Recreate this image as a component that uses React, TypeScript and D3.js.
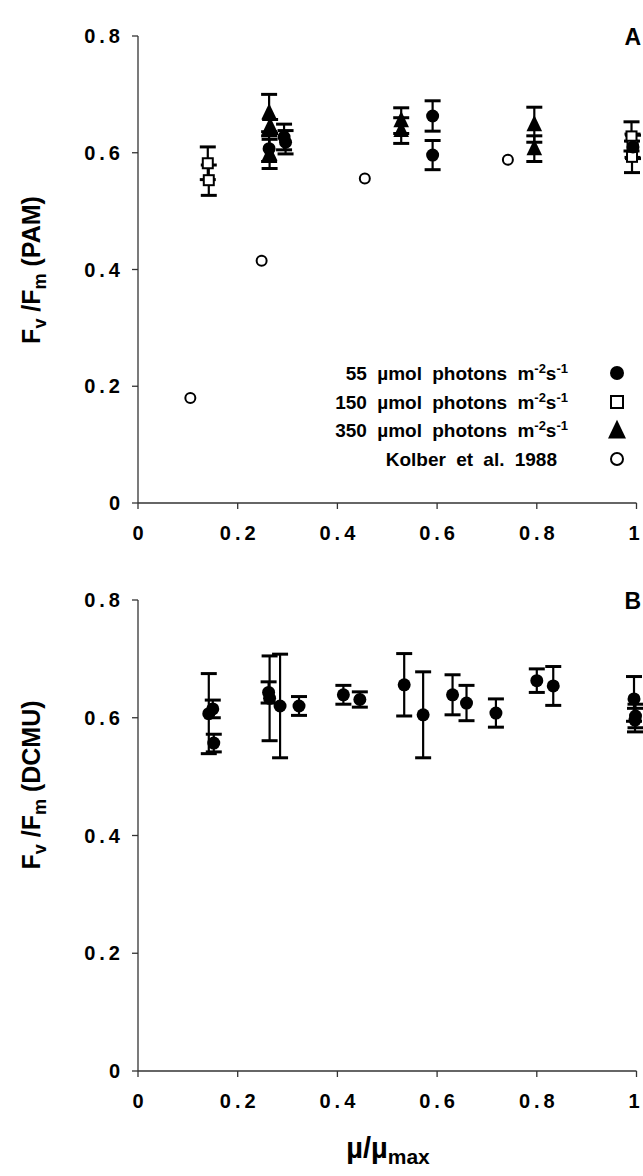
import React from 'react';
import * as d3 from 'd3';

// ---------- data ----------
const xTicks = [0, 0.2, 0.4, 0.6, 0.8, 1];
const xTickLabels = ['0', '0.2', '0.4', '0.6', '0.8', '1'];
const yTicks = [0, 0.2, 0.4, 0.6, 0.8];
const yTickLabels = ['0', '0.2', '0.4', '0.6', '0.8'];

// Panel A (PAM)
const low55X = [0.263, 0.293, 0.296, 0.591, 0.591, 0.993];
const low55Y = [0.607, 0.627, 0.618, 0.663, 0.596, 0.61];
const low55Err = [0.022, 0.022, 0.02, 0.026, 0.025, 0.02];

const mid150X = [0.14, 0.142, 0.99, 0.992, 0.991];
const mid150Y = [0.582, 0.553, 0.628, 0.612, 0.593];
const mid150Err = [0.028, 0.026, 0.025, 0.02, 0.027];

const high350X = [0.263, 0.265, 0.264, 0.528, 0.528, 0.795, 0.795];
const high350Y = [0.668, 0.645, 0.598, 0.655, 0.638, 0.648, 0.607];
const high350Err = [0.032, 0.012, 0.025, 0.022, 0.022, 0.03, 0.022];

const kolberX = [0.105, 0.248, 0.455, 0.742];
const kolberY = [0.18, 0.415, 0.556, 0.588];

// Panel B (DCMU)
const dcmuX = [0.142, 0.15, 0.152, 0.262, 0.264, 0.285, 0.323, 0.412, 0.445, 0.534, 0.572, 0.631, 0.659, 0.718, 0.8, 0.833, 0.995, 0.998, 0.997];
const dcmuY = [0.607, 0.615, 0.557, 0.643, 0.633, 0.62, 0.62, 0.639, 0.631, 0.656, 0.605, 0.639, 0.625, 0.608, 0.663, 0.654, 0.632, 0.603, 0.596];
const dcmuErr = [0.068, 0.015, 0.015, 0.018, 0.072, 0.088, 0.016, 0.016, 0.013, 0.053, 0.073, 0.034, 0.03, 0.024, 0.02, 0.033, 0.038, 0.02, 0.02];

const legendLabels = ['55 µmol photons m', '150 µmol photons m', '350 µmol photons m', 'Kolber et al. 1988'];

// ---------- layout ----------
const W = 643;
const H = 1176;
const FONT = '"Liberation Sans", Arial, Helvetica, sans-serif';

const x = d3.scaleLinear().domain([0, 1]).range([138, 636.5]);
const yA = d3.scaleLinear().domain([0, 0.8]).range([503, 36]);
const yB = d3.scaleLinear().domain([0, 0.8]).range([1071, 600]);

const CAP = 8;

function ErrBars({ xs, ys, es, y }: { xs: number[]; ys: number[]; es: number[]; y: d3.ScaleLinear<number, number> }) {
  return (
    <g stroke="#000" strokeWidth={2.2} fill="none">
      {xs.map((xv, i) => {
        const cx = x(xv);
        const t = y(ys[i] + es[i]);
        const b = y(ys[i] - es[i]);
        return (
          <g key={i}>
            <line x1={cx} x2={cx} y1={t} y2={b} />
            <line x1={cx - CAP} x2={cx + CAP} y1={t} y2={t} strokeWidth={3} />
            <line x1={cx - CAP} x2={cx + CAP} y1={b} y2={b} strokeWidth={3} />
          </g>
        );
      })}
    </g>
  );
}

const triPath = (cx: number, cy: number, s: number) =>
  `M${cx},${cy - s * 0.75}L${cx + s * 0.6},${cy + s * 0.5}L${cx - s * 0.6},${cy + s * 0.5}Z`;

function Axes({ y, top, bottom, letter }: { y: d3.ScaleLinear<number, number>; top: number; bottom: number; letter: string }) {
  const x0 = x(0);
  return (
    <g>
      <line x1={x0} x2={x0} y1={top} y2={bottom} stroke="#333" strokeWidth={1.3} />
      <line x1={x0} x2={x(1)} y1={bottom} y2={bottom} stroke="#333" strokeWidth={1.3} />
      {yTicks.map((t, i) => (
        <g key={'y' + i}>
          <line x1={x0 - 6} x2={x0} y1={y(t)} y2={y(t)} stroke="#333" strokeWidth={1.3} />
          <text x={124} y={y(t)} dy="0.36em" textAnchor="end" fontFamily={FONT} fontWeight="bold" fontSize={20} letterSpacing={4}>
            {yTickLabels[i]}
          </text>
        </g>
      ))}
      {xTicks.map((t, i) => {
        const lab = xTickLabels[i];
        const single = lab.length === 1;
        const lx = single ? Math.min(x(t), 634) : x(t) + 2;
        return (
          <g key={'x' + i}>
            <line x1={x(t)} x2={x(t)} y1={bottom} y2={bottom + 6} stroke="#333" strokeWidth={1.3} />
            <text x={lx} y={bottom + 30} dy="0.36em" textAnchor="middle" fontFamily={FONT} fontWeight="bold" fontSize={20} letterSpacing={single ? 0 : 4}>
              {lab}
            </text>
          </g>
        );
      })}
      <text x={641} y={top + 1} dy="0.36em" textAnchor="end" fontFamily={FONT} fontWeight="bold" fontSize={23}>
        {letter}
      </text>
    </g>
  );
}

function YTitle({ cy, tail }: { cy: number; tail: string }) {
  return (
    <text transform={`translate(40,${cy}) rotate(-90)`} textAnchor="middle" fontFamily={FONT} fontWeight="bold" fontSize={25}>
      F<tspan fontSize={18} dy={6}>v</tspan>
      <tspan dy={-6}> /F</tspan>
      <tspan fontSize={18} dy={6}>m</tspan>
      <tspan dy={-6}>{' ' + tail}</tspan>
    </text>
  );
}

export default function App() {
  const legendY = [373, 402, 430, 459];
  const legX = [568, 568, 568, 557];
  const symX = 617;
  return (
    <svg width={W} height={H} style={{ position: 'absolute', left: 0, top: 0, background: '#fff' }}>
      {/* Panel A */}
      <Axes y={yA} top={36} bottom={yA(0)} letter="A" />
      <YTitle cy={270} tail="(PAM)" />
      <ErrBars xs={low55X} ys={low55Y} es={low55Err} y={yA} />
      <ErrBars xs={mid150X} ys={mid150Y} es={mid150Err} y={yA} />
      <ErrBars xs={high350X} ys={high350Y} es={high350Err} y={yA} />
      {mid150X.map((xv, i) => (
        <rect key={'s' + i} x={x(xv) - 5} y={yA(mid150Y[i]) - 5} width={10} height={10} fill="#fff" stroke="#000" strokeWidth={2} />
      ))}
      {high350X.map((xv, i) => (
        <path key={'t' + i} d={triPath(x(xv), yA(high350Y[i]), 13)} fill="#000" />
      ))}
      {low55X.map((xv, i) => (
        <circle key={'c' + i} cx={x(xv)} cy={yA(low55Y[i])} r={6.5} fill="#000" />
      ))}
      {kolberX.map((xv, i) => (
        <circle key={'k' + i} cx={x(xv)} cy={yA(kolberY[i])} r={5} fill="#fff" stroke="#000" strokeWidth={2} />
      ))}

      {/* Legend */}
      {legendLabels.map((lab, i) => (
        <text key={'l' + i} x={legX[i]} y={legendY[i]} dy="0.36em" textAnchor="end" fontFamily={FONT} fontWeight="bold" fontSize={19} wordSpacing={5}>
          {lab}
          {i < 3 ? (
            <>
              <tspan fontSize={13} dy={-7}>-2</tspan>
              <tspan dy={7}>s</tspan>
              <tspan fontSize={13} dy={-7}>-1</tspan>
            </>
          ) : null}
        </text>
      ))}
      <circle cx={symX} cy={legendY[0]} r={7} fill="#000" />
      <rect x={symX - 6} y={legendY[1] - 6} width={12} height={12} fill="#fff" stroke="#000" strokeWidth={2} />
      <path d={triPath(symX, legendY[2] + 1, 15)} fill="#000" />
      <circle cx={symX} cy={legendY[3]} r={6} fill="#fff" stroke="#000" strokeWidth={2} />

      {/* Panel B */}
      <Axes y={yB} top={600} bottom={yB(0)} letter="B" />
      <YTitle cy={785} tail="(DCMU)" />
      <ErrBars xs={dcmuX} ys={dcmuY} es={dcmuErr} y={yB} />
      {dcmuX.map((xv, i) => (
        <circle key={'d' + i} cx={x(xv)} cy={yB(dcmuY[i])} r={6.5} fill="#000" />
      ))}

      {/* X title */}
      <text x={388} y={1158} textAnchor="middle" fontFamily={FONT} fontWeight="bold" fontSize={29}>
        µ/µ<tspan fontSize={21} dy={6}>max</tspan>
      </text>
    </svg>
  );
}
